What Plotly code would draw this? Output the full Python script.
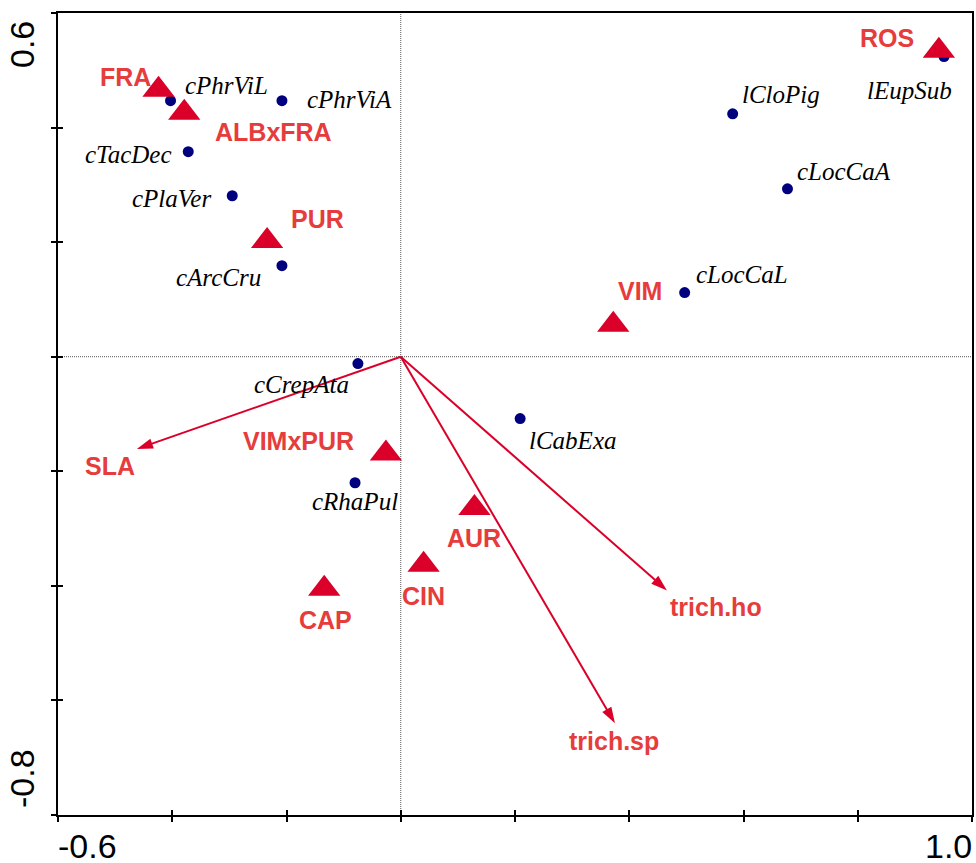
import plotly.graph_objects as go

# ---- data ----
species = ["cPhrViL", "cPhrViA", "cTacDec", "cPlaVer", "cArcCru", "cCrepAta",
           "cRhaPul", "lCabExa", "lCloPig", "cLocCaA", "cLocCaL", "lEupSub"]
sp_x = [-0.403, -0.208, -0.372, -0.295, -0.208, -0.075, -0.080, 0.209, 0.581, 0.677, 0.497, 0.951]
sp_y = [0.447, 0.447, 0.358, 0.281, 0.159, -0.012, -0.220, -0.108, 0.424, 0.293, 0.112, 0.524]

samples = ["FRA", "ALBxFRA", "PUR", "VIM", "ROS", "VIMxPUR", "AUR", "CIN", "CAP"]
sm_x = [-0.424, -0.379, -0.234, 0.372, 0.942, -0.026, 0.129, 0.040, -0.134]
sm_y = [0.466, 0.426, 0.202, 0.056, 0.534, -0.169, -0.264, -0.363, -0.405]

traits = ["SLA", "trich.ho", "trich.sp"]
tr_x = [-0.462, 0.466, 0.375]
tr_y = [-0.161, -0.408, -0.640]

x_ticks = [-0.6, -0.4, -0.2, 0.0, 0.2, 0.4, 0.6, 0.8, 1.0]
y_ticks = [-0.8, -0.6, -0.4, -0.2, 0.0, 0.2, 0.4, 0.6]

# ---- label offsets (pixels) ----
sp_off = [(56, 15), (68, 1), (-60, -3), (-61, -3), (-63, -12), (-56, -21),
          (0, -19), (53, -22), (48, 19), (57, 17), (57, 18), (-35, -34)]
sm_off = [(-33, 13), (89, -19), (50, 22), (27, 34), (-52, 13), (-87, 13),
          (0, -30), (0, -31), (1, -31)]
tr_off = [(-27, -17), (49, -17), (-1, -18)]

RED = "#DA0029"
LRED = "#E63C3C"
NAVY = "#00007F"

fig = go.Figure()

# zero lines (dotted)
fig.add_shape(type="line", x0=0, x1=0, y0=-0.8, y1=0.6, xref="x", yref="y",
              line=dict(color="#555555", width=1, dash="1px,1px"), layer="below")
fig.add_shape(type="line", x0=-0.6, x1=1.0, y0=0, y1=0, xref="x", yref="y",
              line=dict(color="#555555", width=1, dash="1px,1px"), layer="below")

fig.add_trace(go.Scatter(x=sp_x, y=sp_y, mode="markers",
                         marker=dict(color=NAVY, size=11, opacity=1), hoverinfo="text",
                         text=species, showlegend=False))
fig.add_trace(go.Scatter(x=sm_x, y=sm_y, mode="markers",
                         marker=dict(color=RED, size=28, symbol="triangle-up",
                                     opacity=1, line=dict(width=0)),
                         hoverinfo="text", text=samples, showlegend=False))

for name, tx, ty in zip(traits, tr_x, tr_y):
    fig.add_trace(go.Scatter(x=[0, tx], y=[0, ty], mode="lines+markers",
                             line=dict(color=RED, width=2),
                             marker=dict(symbol="arrow", size=[0, 17], color=RED,
                                         opacity=1, angleref="previous",
                                         line=dict(width=0)),
                             hoverinfo="skip", showlegend=False))

# dummy trace for overlay axes (inner ticks)
fig.add_trace(go.Scatter(x=[0], y=[0], xaxis="x2", yaxis="y2", mode="markers",
                         marker=dict(opacity=0), hoverinfo="skip", showlegend=False))

ann = []
for name, x, y, (dx, dy) in zip(species, sp_x, sp_y, sp_off):
    ann.append(dict(x=x, y=y, xref="x", yref="y", text="<i>%s</i>" % name,
                    showarrow=False, xshift=dx, yshift=dy,
                    font=dict(family="Liberation Serif", size=25, color="black")))
for name, x, y, (dx, dy) in zip(samples, sm_x, sm_y, sm_off):
    ann.append(dict(x=x, y=y, xref="x", yref="y", text="<b>%s</b>" % name,
                    showarrow=False, xshift=dx, yshift=dy,
                    font=dict(family="Liberation Sans", size=25, color=LRED)))
for name, x, y, (dx, dy) in zip(traits, tr_x, tr_y, tr_off):
    ann.append(dict(x=x, y=y, xref="x", yref="y", text="<b>%s</b>" % name,
                    showarrow=False, xshift=dx, yshift=dy,
                    font=dict(family="Liberation Sans", size=25, color=LRED)))

tickfont = dict(family="Liberation Sans", size=34, color="black")
ann.append(dict(x=x_ticks[0], y=y_ticks[0], xref="x", yref="y", text="-0.6",
                showarrow=False, xanchor="left", yanchor="middle", xshift=-2, yshift=-31,
                font=tickfont))
ann.append(dict(x=x_ticks[-1], y=y_ticks[0], xref="x", yref="y", text="1.0",
                showarrow=False, xanchor="right", yanchor="middle", xshift=2, yshift=-31,
                font=tickfont))
ann.append(dict(x=x_ticks[0], y=y_ticks[-1], xref="x", yref="y", text="0.6",
                showarrow=False, textangle=-90, xshift=-36, yshift=-32,
                font=tickfont))
ann.append(dict(x=x_ticks[0], y=y_ticks[0], xref="x", yref="y", text="-0.8",
                showarrow=False, textangle=-90, xshift=-36, yshift=36,
                font=tickfont))

axis_common = dict(showgrid=False, zeroline=False, showticklabels=False)
fig.update_layout(
    width=976, height=863,
    margin=dict(l=58, r=2, t=13, b=48),
    paper_bgcolor="white", plot_bgcolor="white",
    xaxis=dict(range=[-0.6, 1.0], tickvals=x_ticks, ticks="outside", ticklen=5,
               tickwidth=2, tickcolor="black", showline=True, linecolor="black",
               linewidth=2, mirror=True, **axis_common),
    yaxis=dict(range=[-0.8, 0.6], tickvals=y_ticks, ticks="outside", ticklen=5,
               tickwidth=2, tickcolor="black", showline=True, linecolor="black",
               linewidth=2, mirror=True, **axis_common),
    xaxis2=dict(range=[-0.6, 1.0], tickvals=x_ticks, ticks="inside", ticklen=5,
                tickwidth=2, tickcolor="black", overlaying="x", anchor="y2",
                side="bottom", showline=False, **axis_common),
    yaxis2=dict(range=[-0.8, 0.6], tickvals=y_ticks, ticks="inside", ticklen=5,
                tickwidth=2, tickcolor="black", overlaying="y", anchor="x2",
                side="left", showline=False, **axis_common),
    annotations=ann,
    showlegend=False,
)

fig.write_html("out.html", config={"displayModeBar": False},
               post_script="document.body.style.margin='0';")
